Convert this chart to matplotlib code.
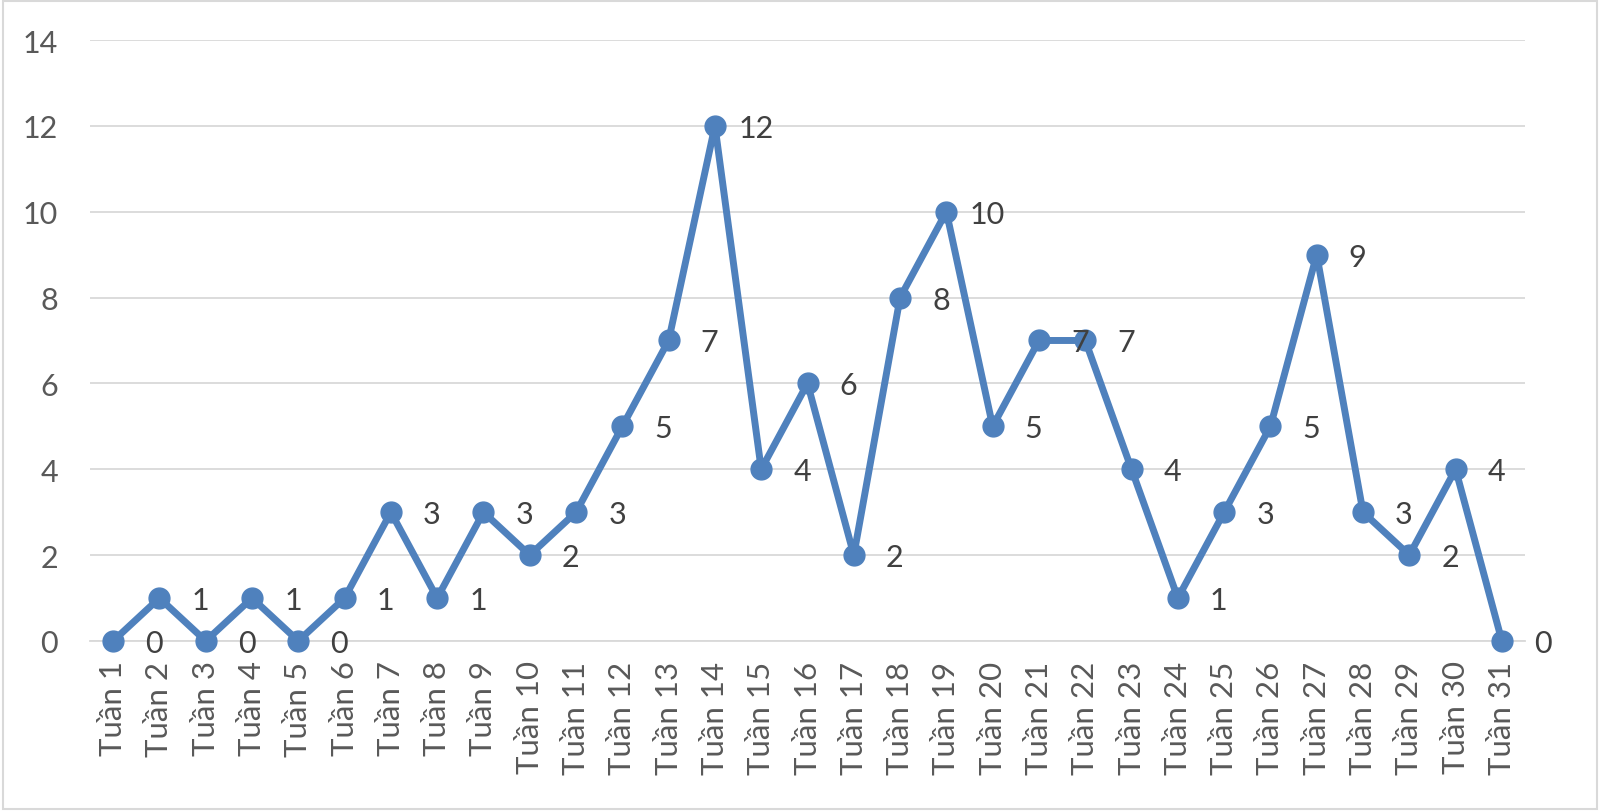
import matplotlib
matplotlib.use("Agg")
from matplotlib import pyplot

weeks = ["Tuần %d" % i for i in range(1, 32)]
values = [0, 1, 0, 1, 0, 1, 3, 1, 3, 2, 3, 5, 7, 12, 4, 6, 2, 8, 10, 5,
          7, 7, 4, 1, 3, 5, 9, 3, 2, 4, 0]

pyplot.rcParams["font.family"] = ["Lato", "DejaVu Sans"]
blue = "#4F81BD"
grey = "#595959"

fig = pyplot.figure(figsize=(16, 8.12), dpi=100)
ax = fig.add_axes([0.05625, 0.2094, 0.8969, 0.7401])
x = list(range(len(weeks)))
ax.plot(x, values, color=blue, lw=5, marker="o", ms=15,
        solid_joinstyle="round", clip_on=False, zorder=3)

for xi, v in zip(x, values):
    ax.annotate(str(v), (xi, v), xytext=(41, -2), textcoords="offset pixels",
                ha="center", va="center", fontsize=22, color="#404040")

ax.set_xlim(-0.5, len(weeks) - 0.5)
ax.set_ylim(0, 14)
ax.set_yticks(range(0, 15, 2))
ax.set_xticks(x)
ax.set_xticklabels(weeks, rotation=90, fontsize=22.5, color=grey)
ax.tick_params(axis="y", labelsize=22, labelcolor=grey, length=0, pad=23)
ax.tick_params(axis="x", length=0, pad=14)
ax.grid(axis="y", color="#D9D9D9", lw=1.3)
ax.set_axisbelow(True)
for s in ["top", "right", "left"]:
    ax.spines[s].set_visible(False)
ax.spines["bottom"].set_color("#D9D9D9")
ax.spines["bottom"].set_linewidth(1.3)

border = pyplot.Rectangle((0.002, 0.002), 0.996, 0.996, transform=fig.transFigure,
                          fill=False, edgecolor="#D9D9D9", lw=1.5)
fig.patches.append(border)

fig.savefig("out.png", dpi=100)
